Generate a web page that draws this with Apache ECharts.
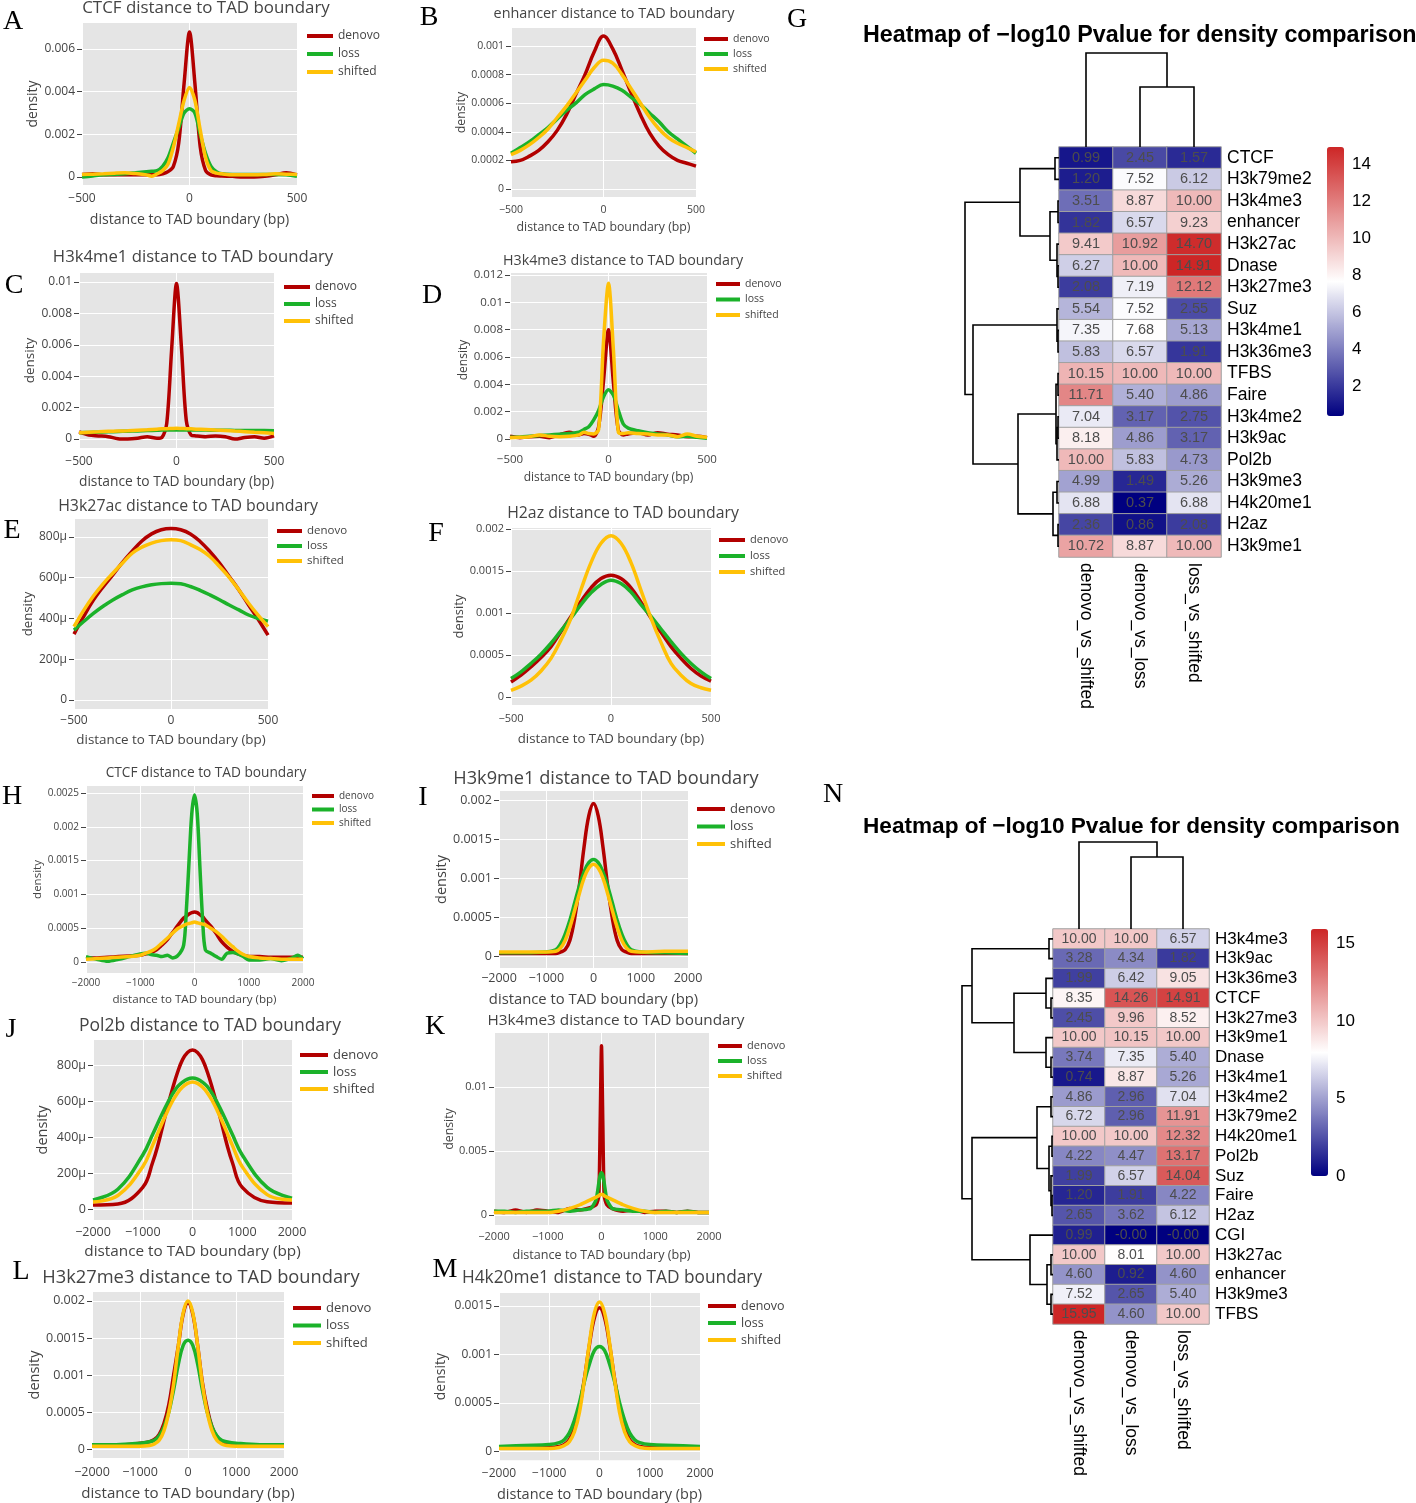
<!DOCTYPE html>
<html><head><meta charset="utf-8">
<script src="https://cdn.jsdelivr.net/npm/echarts@6/dist/echarts.min.js"></script>
<style>html,body{margin:0;padding:0;background:#fff}#c{width:1416px;height:1503px}</style>
</head><body><div id="c"></div>
<script>
// ---------------- DATA ----------------
const SERIES_NAMES = ['denovo','loss','shifted'];
const X500 = [-500,0,500];
const X2000 = [-2000,-1000,0,1000,2000];

const A_x = [-500,-450,-400,-350,-300,-250,-200,-175,-150,-125,-100,-75,-50,-25,0,25,50,75,100,125,150,200,250,300,350,400,450,500];
const A_denovo = [0.00012,0.00015,0.0001,0.0001,0.0001,0.0001,0.0001,0.0001,0.0001,0.00015,0.00025,0.0005,0.0016,0.0044,0.0068,0.0044,0.0014,0.0003,0.0001,0.00006,0.00005,0.00003,0.0,0.0,0.00003,0.0001,0.0002,0.0001];
const A_loss = [0.0,0.00005,0.0001,0.00012,0.00015,0.0002,0.00025,0.00027,0.0003,0.0005,0.0009,0.0016,0.0023,0.003,0.0032,0.003,0.002,0.0011,0.0005,0.00025,0.00015,0.00012,0.00012,0.00012,0.00012,0.00012,0.0001,0.00003];
const A_shifted = [0.00012,0.00013,0.00015,0.00018,0.0002,0.00016,0.0001,0.00004,0.00015,0.0003,0.0006,0.0014,0.0025,0.0036,0.0042,0.0036,0.0022,0.0009,0.0003,0.00018,0.00015,0.0001,0.0001,0.0001,0.00012,0.00015,0.00013,0.00012];
const A_yt = [0,0.002,0.004,0.006];

const B_x = [-500,-450,-400,-350,-300,-250,-200,-150,-100,-50,0,50,100,150,200,250,300,350,400,450,500];
const B_denovo = [0.00019,0.0002,0.00023,0.00027,0.00033,0.00041,0.00052,0.00066,0.0008,0.00096,0.00107,0.00098,0.00083,0.00067,0.00052,0.00039,0.0003,0.00024,0.0002,0.00018,0.00016];
const B_loss = [0.00025,0.00029,0.00033,0.00038,0.00043,0.00049,0.00055,0.0006,0.00066,0.0007,0.00073,0.00072,0.00069,0.00064,0.00059,0.00053,0.00047,0.0004,0.00035,0.0003,0.00025];
const B_shifted = [0.00024,0.00027,0.00031,0.00036,0.00042,0.0005,0.00058,0.00067,0.00076,0.00085,0.0009,0.00088,0.0008,0.0007,0.0006,0.0005,0.00042,0.00036,0.00032,0.00029,0.00026];
const B_yt = [0,0.0002,0.0004,0.0006,0.0008,0.001];

const C_x = [-500,-450,-400,-350,-300,-250,-200,-150,-100,-75,-50,-25,0,25,50,75,100,150,200,250,300,350,400,450,500];
const C_denovo = [0.00045,0.00025,0.0002,0.00015,0.00002,0.0,0.00005,0.00015,0.00005,0.0001,0.001,0.0057,0.0099,0.0059,0.0012,0.00025,0.0002,0.00015,0.0002,0.00015,0.0,0.0001,0.00015,0.00005,0.0002];
const C_loss = [0.0004,0.00042,0.00044,0.00046,0.00048,0.0005,0.00052,0.00054,0.00056,0.00057,0.00057,0.00058,0.00058,0.00058,0.00058,0.00058,0.00057,0.00057,0.00056,0.00056,0.00055,0.00055,0.00054,0.00054,0.00053];
const C_shifted = [0.0004,0.00043,0.00046,0.00049,0.00051,0.00053,0.00056,0.00059,0.00063,0.00065,0.00066,0.00067,0.00068,0.00067,0.00066,0.00065,0.00063,0.00061,0.00058,0.00055,0.00051,0.00047,0.00043,0.0004,0.00036];
const C_yt = [0,0.002,0.004,0.006,0.008,0.01];

const D_x = [-500,-450,-400,-350,-300,-250,-200,-150,-125,-100,-75,-50,-25,0,25,50,75,100,150,200,250,300,350,400,450,500];
const D_denovo = [0.0002,0.0001,0.00017,0.0002,0.0001,0.0003,0.0005,0.0003,0.0004,0.00035,0.0002,0.0009,0.0043,0.008,0.0041,0.00066,0.0003,0.00037,0.00046,0.0003,0.00046,0.00035,0.0003,0.00017,0.0002,0.0001];
const D_loss = [0.00012,0.00015,0.0002,0.00025,0.0003,0.00035,0.0004,0.0005,0.0007,0.0009,0.0014,0.0021,0.0031,0.0036,0.0032,0.0021,0.0011,0.0008,0.0006,0.00046,0.00037,0.0003,0.00017,0.0002,0.00012,0.00005];
const D_shifted = [0.0001,0.00012,0.00017,0.0003,0.0002,0.00017,0.0002,0.0003,0.0005,0.0004,0.00037,0.0007,0.0072,0.0114,0.0065,0.0005,0.0004,0.00046,0.0004,0.00037,0.0003,0.0003,0.00017,0.00037,0.0002,0.00012];
const D_yt = [0,0.002,0.004,0.006,0.008,0.01,0.012];

const E_x = [-500,-450,-400,-350,-300,-250,-200,-150,-100,-50,0,50,100,150,200,250,300,350,400,450,500];
const E_denovo = [323e-6,410e-6,490e-6,555e-6,614e-6,675e-6,730e-6,780e-6,815e-6,835e-6,841e-6,835e-6,815e-6,778e-6,729e-6,672e-6,606e-6,540e-6,466e-6,395e-6,318e-6];
const E_loss = [343e-6,385e-6,425e-6,460e-6,491e-6,517e-6,540e-6,555e-6,565e-6,571e-6,573e-6,570e-6,557e-6,538e-6,516e-6,492e-6,466e-6,442e-6,417e-6,400e-6,387e-6];
const E_shifted = [360e-6,440e-6,510e-6,570e-6,622e-6,672e-6,720e-6,750e-6,770e-6,782e-6,786e-6,782e-6,762e-6,738e-6,704e-6,655e-6,602e-6,540e-6,475e-6,415e-6,360e-6];
const E_yt = [0,0.0002,0.0004,0.0006,0.0008];

const F_x = [-500,-450,-400,-350,-300,-250,-200,-150,-100,-50,0,50,100,150,200,250,300,350,400,450,500];
const F_denovo = [0.00018,0.00026,0.00036,0.00047,0.0006,0.00078,0.00096,0.00114,0.0013,0.00141,0.00145,0.00141,0.0013,0.00113,0.00094,0.00077,0.0006,0.00046,0.00034,0.00025,0.00019];
const F_loss = [0.00022,0.0003,0.0004,0.00051,0.00064,0.00079,0.00094,0.0011,0.00124,0.00134,0.00139,0.00135,0.00125,0.0011,0.00096,0.00081,0.00066,0.00052,0.0004,0.0003,0.00022];
const F_shifted = [0.00008,0.00013,0.0002,0.00031,0.00046,0.00068,0.00094,0.00128,0.0016,0.00183,0.00192,0.00183,0.0016,0.00127,0.00094,0.00065,0.0004,0.00026,0.00016,0.00011,0.00008];
const F_yt = [0,0.0005,0.001,0.0015,0.002];

const H_x = [-2000,-1800,-1600,-1400,-1200,-1000,-900,-800,-700,-600,-500,-400,-300,-200,-150,-100,-50,0,50,100,150,200,300,400,500,600,700,800,900,1000,1200,1400,1600,1800,1900,2000];
const H_denovo = [0.00006,0.00006,0.00007,0.00008,0.00009,0.0001,0.00012,0.00014,0.00018,0.00025,0.00033,0.00044,0.00055,0.00065,0.00068,0.00071,0.00073,0.00074,0.00073,0.0007,0.00067,0.00062,0.00053,0.00042,0.0003,0.00022,0.00016,0.00012,0.0001,0.00008,0.00008,0.00007,0.00007,0.00007,0.00007,0.00007];
const H_loss = [0.00008,0.00004,0.00001,0.00004,0.00008,0.00012,0.00013,0.00011,0.0001,0.00008,0.0001,0.00006,0.0001,0.00025,0.00077,0.0015,0.0022,0.00247,0.0022,0.0014,0.00062,0.00018,0.00013,0.00008,0.00004,0.00013,0.00014,0.00012,0.00008,0.00003,0.00003,0.00005,0.00002,0.00006,0.0001,0.00005];
const H_shifted = [0.00004,0.00005,0.00006,0.00007,0.00008,0.0001,0.00013,0.00016,0.00021,0.00028,0.00035,0.00043,0.0005,0.00054,0.00056,0.00057,0.00058,0.00059,0.00058,0.00057,0.00056,0.00055,0.0005,0.00045,0.00038,0.0003,0.00023,0.00016,0.00011,0.00008,0.00006,0.00005,0.00004,0.00004,0.00004,0.00004];
const H_yt = [0,0.0005,0.001,0.0015,0.002,0.0025];

const I_x = [-2000,-1500,-1000,-800,-700,-600,-500,-400,-300,-200,-100,0,100,200,300,400,500,600,700,800,1000,1500,2000];
const I_denovo = [0.00003,0.00003,0.00003,0.00003,0.00005,0.00008,0.0002,0.00048,0.0009,0.0014,0.0018,0.00196,0.0018,0.0014,0.0009,0.00048,0.0002,0.00008,0.00005,0.00003,0.00003,0.00003,0.00003];
const I_loss = [0.00004,0.00004,0.00005,0.00008,0.00015,0.00028,0.00046,0.00068,0.0009,0.00108,0.0012,0.00124,0.0012,0.00108,0.0009,0.00068,0.00046,0.00028,0.00015,0.00008,0.00005,0.00004,0.00003];
const I_shifted = [0.00005,0.00005,0.00005,0.00006,0.0001,0.0002,0.00037,0.00058,0.0008,0.001,0.00113,0.00118,0.00113,0.001,0.0008,0.00058,0.00037,0.0002,0.0001,0.00006,0.00005,0.00006,0.00006];
const I_yt = [0,0.0005,0.001,0.0015,0.002];

const J_x = [-2000,-1500,-1000,-800,-700,-600,-500,-400,-300,-200,-100,0,100,200,300,400,500,600,700,800,1000,1500,2000];
const J_denovo = [22e-6,28e-6,120e-6,260e-6,350e-6,460e-6,570e-6,670e-6,760e-6,830e-6,870e-6,883e-6,870e-6,830e-6,760e-6,670e-6,570e-6,460e-6,350e-6,260e-6,120e-6,40e-6,33e-6];
const J_loss = [50e-6,110e-6,300e-6,415e-6,475e-6,535e-6,590e-6,640e-6,680e-6,705e-6,722e-6,728e-6,722e-6,705e-6,680e-6,640e-6,590e-6,535e-6,475e-6,415e-6,300e-6,120e-6,60e-6];
const J_shifted = [39e-6,75e-6,235e-6,355e-6,420e-6,485e-6,545e-6,600e-6,645e-6,678e-6,698e-6,706e-6,698e-6,678e-6,645e-6,600e-6,545e-6,485e-6,420e-6,355e-6,235e-6,80e-6,50e-6];
const J_yt = [0,0.0002,0.0004,0.0006,0.0008];

const K_x = [-2000,-1800,-1600,-1400,-1200,-1000,-800,-600,-400,-200,-100,-50,-25,0,25,50,100,200,400,600,800,1000,1200,1400,1600,1800,2000];
const K_denovo = [0.0003,0.0002,0.0004,0.0002,0.0004,0.0003,0.0002,0.0005,0.0004,0.0006,0.0008,0.0015,0.007,0.0132,0.007,0.0015,0.0008,0.0005,0.0003,0.0004,0.0002,0.0003,0.0003,0.0002,0.0003,0.0002,0.0002];
const K_loss = [0.0003,0.0003,0.0002,0.0003,0.0003,0.0003,0.0004,0.0003,0.0004,0.0005,0.0012,0.0025,0.0031,0.0033,0.0031,0.0025,0.0012,0.0005,0.0004,0.0003,0.0003,0.0002,0.0003,0.0002,0.0003,0.0002,0.0002];
const K_shifted = [0.0002,0.0002,0.0002,0.0002,0.0002,0.0002,0.0003,0.0005,0.0008,0.0012,0.0014,0.0015,0.0016,0.0016,0.0016,0.0015,0.0014,0.0012,0.0008,0.0005,0.0003,0.0002,0.0002,0.0002,0.0002,0.0002,0.0002];
const K_yt = [0,0.005,0.01];

const L_x = [-2000,-1500,-1000,-800,-700,-600,-500,-400,-300,-200,-100,0,100,200,300,400,500,600,700,800,1000,1500,2000];
const L_denovo = [0.00004,0.00005,0.00008,0.0001,0.00013,0.0002,0.00035,0.0006,0.001,0.0014,0.00182,0.00197,0.00182,0.0014,0.0009,0.00055,0.0003,0.00017,0.0001,0.00007,0.00005,0.00004,0.00004];
const L_loss = [0.00006,0.00006,0.00008,0.0001,0.00012,0.00018,0.0003,0.0005,0.0008,0.00115,0.0014,0.00147,0.0014,0.00115,0.0008,0.0005,0.0003,0.00018,0.00012,0.0001,0.00008,0.00006,0.00006];
const L_shifted = [0.00004,0.00004,0.00004,0.00005,0.00007,0.00012,0.00025,0.0005,0.00088,0.0014,0.00184,0.002,0.00184,0.0014,0.00088,0.0005,0.00025,0.00012,0.00007,0.00005,0.00004,0.00004,0.00004];
const L_yt = [0,0.0005,0.001,0.0015,0.002];

const M_x = [-2000,-1500,-1000,-800,-700,-600,-500,-400,-300,-200,-100,0,100,200,300,400,500,600,700,800,1000,1500,2000];
const M_denovo = [0.00004,0.00004,0.00004,0.00005,0.00007,0.00012,0.00024,0.00045,0.00075,0.0011,0.00138,0.00148,0.00138,0.0011,0.00075,0.00045,0.00024,0.00012,0.00007,0.00005,0.00004,0.00004,0.00004];
const M_loss = [0.00005,0.00006,0.00007,0.00009,0.00012,0.00019,0.00032,0.0005,0.00072,0.0009,0.00104,0.00108,0.00104,0.0009,0.00072,0.0005,0.00032,0.00019,0.00012,0.00009,0.00007,0.00006,0.00005];
const M_shifted = [0.00003,0.00003,0.00003,0.00004,0.00006,0.0001,0.0002,0.0004,0.00074,0.00112,0.00143,0.00154,0.00143,0.00112,0.00074,0.0004,0.0002,0.0001,0.00006,0.00004,0.00003,0.00003,0.00003];
const M_yt = [0,0.0005,0.001,0.0015];

// Heatmap G
const HM_cols = ['denovo_vs_shifted','denovo_vs_loss','loss_vs_shifted'];
const G_rows = ['CTCF','H3k79me2','H3k4me3','enhancer','H3k27ac','Dnase','H3k27me3','Suz','H3k4me1','H3k36me3','TFBS','Faire','H3k4me2','H3k9ac','Pol2b','H3k9me3','H4k20me1','H2az','H3k9me1'];
const G_denovo_vs_shifted = [0.99,1.20,3.51,1.82,9.41,6.27,2.08,5.54,7.35,5.83,10.15,11.71,7.04,8.18,10.00,4.99,6.88,2.36,10.72];
const G_denovo_vs_loss = [2.45,7.52,8.87,6.57,10.92,10.00,7.19,7.52,7.68,6.57,10.00,5.40,3.17,4.86,5.83,1.49,0.37,0.86,8.87];
const G_loss_vs_shifted = [1.57,6.12,10.00,9.23,14.70,14.91,12.12,2.55,5.13,1.91,10.00,4.86,2.75,3.17,4.73,5.26,6.88,2.08,10.00];
const G_cbTicks = [2,4,6,8,10,12,14];
// dendrogram trees: [left, right, height]
const G_rowTree = [[[0,1,4],[[2,3,1],[4,[5,6,1],2],9],39],[[7,[8,9,1],2],[[[10,11,1],[[12,13,1],14,2],3],[[15,16,2],[17,18,1],6],41],86],94];
const G_colTree = [0,[1,2,60],94];

// Heatmap N
const N_rows = ['H3k4me3','H3k9ac','H3k36me3','CTCF','H3k27me3','H3k9me1','Dnase','H3k4me1','H3k4me2','H3k79me2','H4k20me1','Pol2b','Suz','Faire','H2az','CGI','H3k27ac','enhancer','H3k9me3','TFBS'];
const N_denovo_vs_shifted = [10.00,3.28,1.99,8.35,2.45,10.00,3.74,0.74,4.86,6.72,10.00,4.22,1.99,1.20,2.65,0.99,10.00,4.60,7.52,15.95];
const N_denovo_vs_loss = [10.00,4.34,6.42,14.26,9.96,10.15,7.35,8.87,2.96,2.96,10.00,4.47,6.57,1.91,3.62,-0.001,8.01,0.92,2.65,4.60];
const N_loss_vs_shifted = [6.57,1.82,9.05,14.91,8.52,10.00,5.40,5.26,7.04,11.91,12.32,13.17,14.04,4.22,6.12,-0.001,10.00,4.60,5.40,10.00];
const N_cbTicks = [0,5,10,15];
const N_rowTree = [[[0,1,4],[[2,[3,4,2],7],[5,[6,7,2],7],39],81],[[[8,9,2],[[10,11,1],[12,[13,14,1],2],4],16],[15,[[16,17,2],[18,19,2],6],23],81],91];
const N_colTree = [0,[1,2,72],87];

// ---------------- LAYOUT / STYLE ----------------
const COLORS = {denovo:'#B20000', loss:'#1BB22A', shifted:'#FFC107'};
const FONT = 'Open Sans';
const panels = [
 {k:'A', title:'CTCF distance to TAD boundary', x:A_x, s:[A_denovo,A_loss,A_shifted], yt:A_yt, xt:X500,
  g:[82,23,215,162], y:[-0.000375,0.00722], tf:12, t:[206,8,16.9], xn:[220,14.1], yn:[33,14], lg:[307,36,18,12,26], xm:8, sm:0.3, L:[13,22]},
 {k:'B', title:'enhancer distance to TAD boundary', x:B_x, s:[B_denovo,B_loss,B_shifted], yt:B_yt, xt:X500,
  g:[511,28,185,169], y:[-0.000056,0.001126], tf:10.5, t:[614,14,14.4], xn:[228,12.3], yn:[463,12.3], lg:[704,39,15,10.5,24], xm:7.5, sm:0.4, L:[429,18]},
 {k:'C', title:'H3k4me1 distance to TAD boundary', x:C_x, s:[C_denovo,C_loss,C_shifted], yt:C_yt, xt:X500,
  g:[79,273,195,175], y:[-0.00057,0.01057], tf:12, t:[193,257,16.7], xn:[482,13.8], yn:[32,13.5], lg:[284,287,17,12,26], xm:8, sm:0.3, L:[14,286]},
 {k:'D', title:'H3k4me3 distance to TAD boundary', x:D_x, s:[D_denovo,D_loss,D_shifted], yt:D_yt, xt:X500,
  g:[510,273,197,174], y:[-0.000585,0.01215], tf:11.5, t:[623,261,14.3], xn:[478,12], yn:[468,12], lg:[716,284,15.5,10.5,24], xm:7, sm:0.3, L:[432,296]},
 {k:'E', title:'H3k27ac distance to TAD boundary', x:E_x, s:[E_denovo,E_loss,E_shifted], yt:E_yt, xt:X500, micro:true,
  g:[74,519,194,190], y:[-44e-6,888e-6], tf:12, t:[188,506,15.9], xn:[740,13.4], yn:[32,13.2], lg:[277,531,15,11.5,25], xm:6, sm:0.4, L:[12,531]},
 {k:'F', title:'H2az distance to TAD boundary', x:F_x, s:[F_denovo,F_loss,F_shifted], yt:F_yt, xt:X500,
  g:[511,528,200,177], y:[-0.000095,0.002012], tf:11, t:[623,513,15.8], xn:[739,13.2], yn:[467,13], lg:[719,540,16,11,26], xm:8.5, sm:0.4, L:[436,534]},
 {k:'H', title:'CTCF distance to TAD boundary', x:H_x, s:[H_denovo,H_loss,H_shifted], yt:H_yt, xt:X2000,
  g:[86,786,217,187], y:[-0.000163,0.002604], tf:10, t:[206,773,13.7], xn:[999,11.6], yn:[40,11.5], lg:[312,796,13.5,10,22], xm:5, sm:0.3, L:[12,797]},
 {k:'I', title:'H3k9me1 distance to TAD boundary', x:I_x, s:[I_denovo,I_loss,I_shifted], yt:I_yt, xt:X2000,
  g:[499,791,189,177], y:[-0.000155,0.00212], tf:12.5, t:[606,779,18.2], xn:[1000,14.8], yn:[447,14.5], lg:[697,809,17.5,13,28], xm:4, sm:0.4, L:[423,798]},
 {k:'J', title:'Pol2b distance to TAD boundary', x:J_x, s:[J_denovo,J_loss,J_shifted], yt:J_yt, xt:X2000, micro:true,
  g:[93,1040,199,180], y:[-61e-6,939e-6], tf:12.5, t:[210,1026,17.5], xn:[1252,15.3], yn:[43,14.5], lg:[300,1055,17,13,28], xm:6, sm:0.4, L:[11,1030]},
 {k:'K', title:'H3k4me3 distance to TAD boundary', x:K_x, s:[K_denovo,K_loss,K_shifted], yt:K_yt, xt:X2000,
  g:[494,1033,215,192], y:[-0.00078,0.0142], tf:11, t:[616,1021,15.3], xn:[1255,12.6], yn:[449,12.3], lg:[718,1046,15,11,24], xm:6.5, sm:0.2, L:[435,1027]},
 {k:'L', title:'H3k27me3 distance to TAD boundary', x:L_x, s:[L_denovo,L_loss,L_shifted], yt:L_yt, xt:X2000,
  g:[92,1292,192,166], y:[-0.00012,0.00212], tf:12.5, t:[201,1278,18.3], xn:[1494,15.1], yn:[41,14.5], lg:[293,1308,17.5,13,28], xm:8, sm:0.4, L:[21,1272]},
 {k:'M', title:'H4k20me1 distance to TAD boundary', x:M_x, s:[M_denovo,M_loss,M_shifted], yt:M_yt, xt:X2000,
  g:[499,1293,201,169], y:[-0.000092,0.001633], tf:12, t:[612,1278,17.3], xn:[1496,14.5], yn:[441,14], lg:[708,1306,17,12.5,28], xm:7, sm:0.4, L:[445,1270]}
];

const grids=[], xAxes=[], yAxes=[], series=[], legends=[], graphics=[], visualMaps=[];

function txt(x,y,text,font,fill,align){
  graphics.push({type:'text', x:x, y:y, silent:true, style:{text:text, font:font, fill:fill,
    align:align||'center', verticalAlign:'middle', textAlign:align||'center', textVerticalAlign:'middle'}});
}

panels.forEach((p,i)=>{
  const [gl,gt,gw,gh]=p.g;
  grids.push({left:gl, top:gt, width:gw, height:gh, show:true, backgroundColor:'#E5E5E5', borderWidth:0});
  const step = p.yt[1]-p.yt[0];
  xAxes.push({gridIndex:i, type:'value', min:p.xt[0], max:p.xt[p.xt.length-1], interval:p.xt[1]-p.xt[0],
    axisLine:{show:false, onZero:false}, axisTick:{show:false},
    splitLine:{show:true, lineStyle:{color:'#FFFFFF', width:1}},
    axisLabel:{fontSize:p.tf, color:'#444', fontFamily:FONT, margin:p.xm,
      formatter:v=> v<0 ? '\u2212'+(-v) : String(v)},
    name:'distance to TAD boundary (bp)', nameLocation:'middle',
    nameGap: p.xn[0]-(gt+gh)-p.xn[1]/2,
    nameTextStyle:{fontSize:p.xn[1], color:'#444', fontFamily:FONT}});
  yAxes.push({gridIndex:i, type:'value', min:p.y[0], max:p.y[1], minInterval:step, maxInterval:step,
    axisLine:{show:false, onZero:false},
    axisTick:{show:true, length:5, lineStyle:{color:'#444'}, customValues:p.yt},
    splitLine:{show:true, lineStyle:{color:'#FFFFFF', width:1}},
    axisLabel:{fontSize:p.tf, color:'#444', fontFamily:FONT, margin:7, customValues:p.yt,
      formatter:v=>{ const k=v/step; if (Math.abs(k-Math.round(k))>1e-6) return '';
        if (Math.abs(v)<1e-12) return '0';
        if (p.micro) return Math.round(v*1e6)+'\u00b5';
        return String(+v.toPrecision(6)); }},
    name:'density', nameLocation:'middle', nameGap: gl-p.yn[0]-p.yn[1]/2,
    nameTextStyle:{fontSize:p.yn[1], color:'#444', fontFamily:FONT}});
  SERIES_NAMES.forEach((nm,j)=>{
    const arr=p.s[j];
    series.push({type:'line', name:nm, xAxisIndex:i, yAxisIndex:i,
      data:p.x.map((xv,k)=>[xv,arr[k]]), showSymbol:false, symbol:'none', smooth:p.sm,
      lineStyle:{width:3.5, color:COLORS[nm]}, itemStyle:{color:COLORS[nm]},
      emphasis:{disabled:true}, silent:true, clip:true, animation:false});
  });
  const [lx,ly,lsp,lfs,llw]=p.lg;
  legends.push({left:lx, top:ly-lsp/2, orient:'vertical', itemGap:0, padding:0, itemWidth:llw, itemHeight:4,
    icon:'rect', data:SERIES_NAMES, selectedMode:false,
    textStyle:{fontSize:lfs, color:'#444', fontFamily:FONT, lineHeight:lsp}});
  txt(p.t[0], p.t[1], p.title, p.t[2]+'px "Open Sans"', '#444');
  txt(p.L[0], p.L[1], p.k, '28px "Liberation Serif"', '#000');
});

// dendrogram helper
function dendro(tree){
  const items=[];
  (function rec(n){
    if (typeof n==='number') return {pos:n,h:0};
    const l=rec(n[0]), r=rec(n[1]);
    items.push([n[2], l.pos, r.pos, l.h, r.h]);
    return {pos:(l.pos+r.pos)/2, h:n[2]};
  })(tree);
  return items;
}
function dendroSeries(gi, tree, orient){
  return {type:'custom', xAxisIndex:gi, yAxisIndex:gi, silent:true, clip:false, animation:false,
    data:dendro(tree),
    renderItem:(params,api)=>{
      const H=api.value(0), p1=api.value(1), p2=api.value(2), h1=api.value(3), h2=api.value(4);
      const pts = orient==='row'
        ? [api.coord([h1,p1]),api.coord([H,p1]),api.coord([H,p2]),api.coord([h2,p2])]
        : [api.coord([p1,h1]),api.coord([p1,H]),api.coord([p2,H]),api.coord([p2,h2])];
      return {type:'polyline', shape:{points:pts}, style:{stroke:'#000', lineWidth:1.6, fill:null}};
    }};
}

function addHeatmap(cfg){
  const base = grids.length;
  const {rows, cols, left, top, width, height, rowTree, colTree, rowH, colH, cb, cbTicks, vmin, vmax, cellFs, rowFs, colFs, cbFs} = cfg;
  grids.push({left, top, width, height});
  xAxes.push({gridIndex:base, type:'category', data:cols, position:'bottom',
    axisLine:{show:false, onZero:false}, axisTick:{show:false}, splitLine:{show:false},
    axisLabel:{interval:0, rotate:-90, margin:6, fontSize:colFs, color:'#000', fontFamily:'Liberation Sans'}});
  yAxes.push({gridIndex:base, type:'category', data:rows, inverse:true, position:'right',
    axisLine:{show:false, onZero:false}, axisTick:{show:false}, splitLine:{show:false},
    axisLabel:{interval:0, margin:6, fontSize:rowFs, color:'#000', fontFamily:'Liberation Sans'}});
  const data=[];
  cfg.values.forEach((col,ci)=>col.forEach((v,ri)=>data.push([ci,ri,v])));
  const hmIndex = series.length;
  series.push({type:'heatmap', xAxisIndex:base, yAxisIndex:base, data, animation:false,
    itemStyle:{borderColor:'#A0A0A0', borderWidth:1}, emphasis:{disabled:true},
    label:{show:true, formatter:p=>p.value[2].toFixed(2), color:'#4D4D4D', fontSize:cellFs, fontFamily:'Liberation Sans'}});
  grids.push({left:left-rowH, top, width:rowH, height});
  xAxes.push({gridIndex:base+1, type:'value', min:0, max:rowH, inverse:true, show:false});
  yAxes.push({gridIndex:base+1, type:'value', min:-0.5, max:rows.length-0.5, inverse:true, show:false});
  series.push(dendroSeries(base+1, rowTree, 'row'));
  grids.push({left, top:top-colH, width, height:colH});
  xAxes.push({gridIndex:base+2, type:'value', min:-0.5, max:cols.length-0.5, show:false});
  yAxes.push({gridIndex:base+2, type:'value', min:0, max:colH, show:false});
  series.push(dendroSeries(base+2, colTree, 'col'));
  grids.push({left:cb[0], top:cb[1], width:cb[2], height:cb[3], show:false});
  xAxes.push({gridIndex:base+3, type:'value', min:0, max:1, show:false});
  const st = cbTicks[1]-cbTicks[0];
  yAxes.push({gridIndex:base+3, type:'value', min:vmin, max:vmax, position:'right', minInterval:st, maxInterval:st,
    axisLine:{show:false, onZero:false}, axisTick:{show:false}, splitLine:{show:false},
    axisLabel:{margin:8, fontSize:cbFs, color:'#000', fontFamily:'Liberation Sans', customValues:cbTicks,
      formatter:v=>{ const k=v/st; return Math.abs(k-Math.round(k))<1e-6 ? String(Math.round(v)) : ''; }}});
  visualMaps.push({type:'continuous', seriesIndex:hmIndex, dimension:2, min:vmin, max:vmax,
    left:cb[0], top:cb[1], itemWidth:cb[2], itemHeight:cb[3], padding:0, calculable:false, hoverLink:false,
    inRange:{color:['#000080','#FFFFFF','#CD2626']}});
}

addHeatmap({rows:G_rows, cols:HM_cols, values:[G_denovo_vs_shifted,G_denovo_vs_loss,G_loss_vs_shifted],
  left:1059, top:147, width:162, height:410, rowTree:G_rowTree, colTree:G_colTree, rowH:94, colH:94,
  cb:[1327,147,17,269], cbTicks:G_cbTicks, vmin:0.37, vmax:14.91, cellFs:14.5, rowFs:17.5, colFs:17.5, cbFs:17});
addHeatmap({rows:N_rows, cols:HM_cols, values:[N_denovo_vs_shifted,N_denovo_vs_loss,N_loss_vs_shifted],
  left:1053, top:929, width:156, height:395, rowTree:N_rowTree, colTree:N_colTree, rowH:91, colH:87,
  cb:[1311,929,17,247], cbTicks:N_cbTicks, vmin:-0.001, vmax:15.95, cellFs:14, rowFs:17, colFs:17.5, cbFs:17});

txt(863, 36, 'Heatmap of \u2212log10 Pvalue for density comparison', 'bold 23.3px "Liberation Sans"', '#000', 'left');
txt(863, 827, 'Heatmap of \u2212log10 Pvalue for density comparison', 'bold 22.6px "Liberation Sans"', '#000', 'left');
txt(797, 20, 'G', '28px "Liberation Serif"', '#000');
txt(833, 795, 'N', '28px "Liberation Serif"', '#000');

const chart = echarts.init(document.getElementById('c'), null, {renderer:'canvas'});
chart.setOption({animation:false, backgroundColor:'#FFFFFF',
  grid:grids, xAxis:xAxes, yAxis:yAxes, series, legend:legends, visualMap:visualMaps, graphic:graphics});
</script></body></html>
